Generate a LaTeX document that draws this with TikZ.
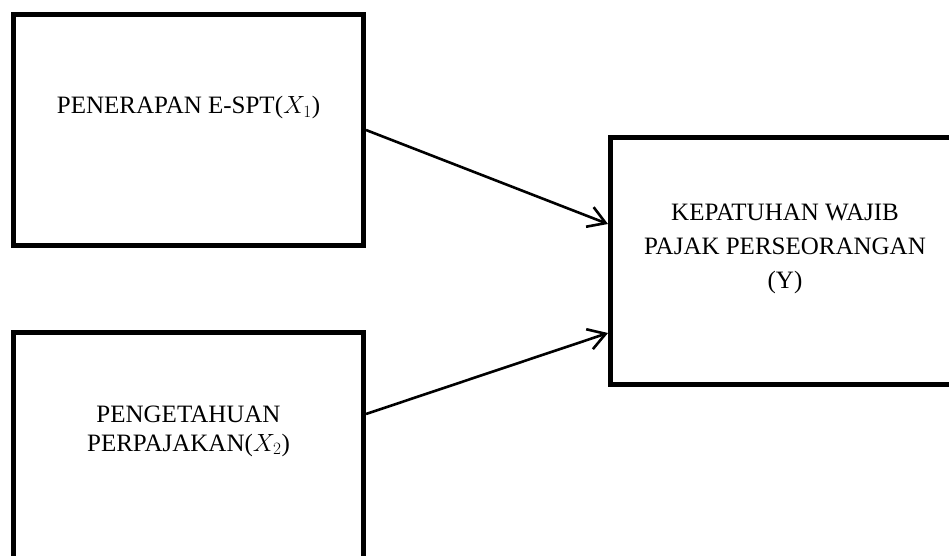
\documentclass[tikz,border=0pt]{standalone}
\usepackage{fontspec}
\setmainfont{Liberation Serif}
\usepackage{tikz}
\usetikzlibrary{arrows.meta,positioning,calc}
\tikzset{
  kotak/.style={draw=black, line width=5pt, rectangle, inner sep=0pt},
  judul/.style={align=center, font=\fontsize{25}{34}\selectfont, inner sep=0pt},
  panah/.style={-{Straight Barb[length=17pt,width=21pt]}, line width=2.6pt, draw=black}
}

\begin{document}
\begin{tikzpicture}[x=1pt, y=-1pt]
  \useasboundingbox (0,0) rectangle (949,555);
  \clip (0,0) rectangle (949,555);
  \node[kotak, minimum width=350pt, minimum height=231pt] (espt) at (188.5,130) {};
  \node[kotak, minimum width=350pt, minimum height=231pt] (tahu) at (188.5,448) {};
  \node[kotak, minimum width=349pt, minimum height=247pt] (patuh) at (785,261) {};
  \node[judul] (espt-t) at ([yshift=22.5pt]espt.center) {PENERAPAN E-SPT($X_1$)};
  \node[judul, font=\fontsize{25}{29}\selectfont] (tahu-t) at ([yshift=17pt]tahu.center) {PENGETAHUAN\\PERPAJAKAN($X_2$)};
  \node[judul] (patuh-t) at ([yshift=12pt]patuh.center) {KEPATUHAN WAJIB\\PAJAK PERSEORANGAN\\(Y)};
  \coordinate (dari2) at ([yshift=34pt]tahu.east);
  \coordinate (ke1) at ([yshift=37pt]patuh.west);
  \coordinate (ke2) at ([yshift=-72pt]patuh.west);
  \draw[panah] (espt.east) -- (ke1);
  \draw[panah] (dari2) -- (ke2);
\end{tikzpicture}
\end{document}
